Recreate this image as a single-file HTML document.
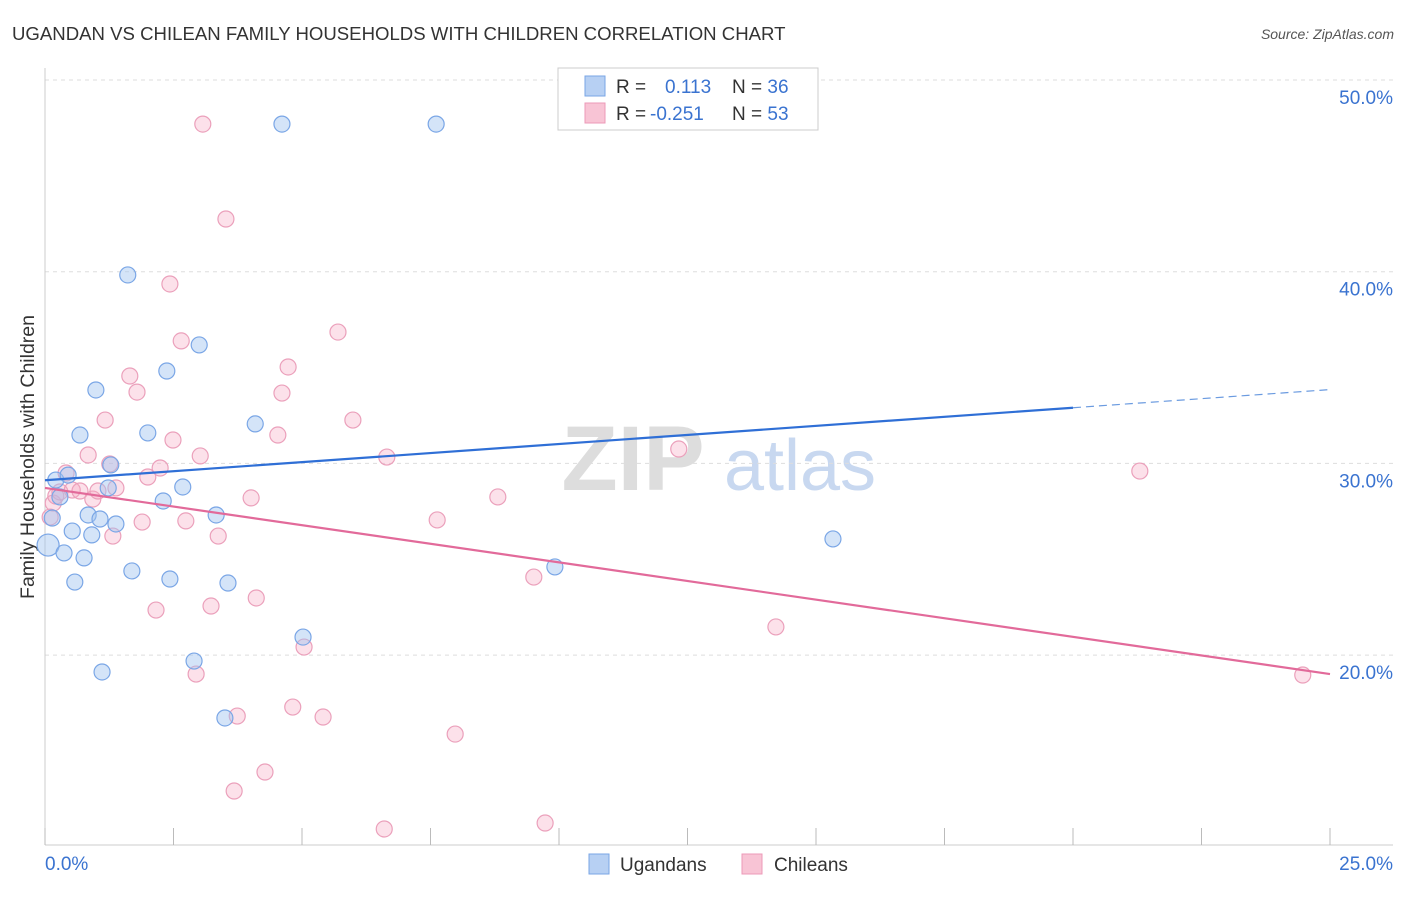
<!DOCTYPE html>
<html><head><meta charset="utf-8"><style>
body{margin:0;background:#fff;font-family:"Liberation Sans",sans-serif}
svg text{font-family:"Liberation Sans",sans-serif}
</style></head><body>
<svg id="c" width="1406" height="892">
<text x="12" y="40" font-size="18.6" fill="#333">UGANDAN VS CHILEAN FAMILY HOUSEHOLDS WITH CHILDREN CORRELATION CHART</text>
<text x="1394" y="39" font-size="14" fill="#555" font-style="italic" text-anchor="end">Source: ZipAtlas.com</text>
<text x="34" y="457" font-size="19.5" fill="#333" text-anchor="middle" transform="rotate(-90 34 457)">Family Households with Children</text>
<g><text x="633" y="490" font-size="92" fill="#ddd" text-anchor="middle" font-family="Liberation Serif" font-weight="bold">ZIP</text><text x="800" y="490" font-size="72" fill="#c8d8f0" text-anchor="middle">atlas</text></g>
<g id="grid"></g><g id="marks"></g>
<g>
<rect x="558" y="68" width="260" height="62" fill="#fff" stroke="#ccc"/>
<rect x="585" y="76" width="20" height="20" fill="#b7d0f3" stroke="#7aa6e6"/>
<rect x="585" y="103" width="20" height="20" fill="#f8c4d5" stroke="#ec9ab8"/>
<text x="616" y="93" font-size="19" fill="#333">R = <tspan fill="#3a73d0" x="665">0.113</tspan><tspan x="732" fill="#333">N = </tspan><tspan fill="#3a73d0">36</tspan></text>
<text x="616" y="120" font-size="19" fill="#333">R = <tspan fill="#3a73d0" x="650">-0.251</tspan><tspan x="732" fill="#333">N = </tspan><tspan fill="#3a73d0">53</tspan></text>
</g>
<g>
<rect x="589" y="854" width="20" height="20" fill="#b7d0f3" stroke="#7aa6e6"/><text x="620" y="871" font-size="19" fill="#333">Ugandans</text>
<rect x="742" y="854" width="20" height="20" fill="#f8c4d5" stroke="#ec9ab8"/><text x="774" y="871" font-size="19" fill="#333">Chileans</text>
</g>
</svg>
<script>
const xTicks=[0,2.5,5,7.5,10,12.5,15,17.5,20,22.5,25];
const yTicks=[20,30,40,50];
const yTickLabels=["20.0%","30.0%","40.0%","50.0%"];
const ugX=[0.06,0.14,0.21,0.29,0.37,0.45,0.53,0.58,0.68,0.76,0.84,0.91,0.99,1.07,1.11,1.23,1.28,1.38,1.61,1.69,2.00,2.30,2.37,2.43,2.68,2.90,3.00,3.33,3.50,3.56,4.09,4.61,5.02,7.61,9.92,15.33];
const ugY=[25.74,27.15,29.13,28.25,25.33,29.39,26.47,23.81,31.48,25.07,27.31,26.27,33.83,27.10,19.12,28.72,29.92,26.84,39.83,24.39,31.59,28.04,34.82,23.97,28.77,19.69,36.18,27.31,16.72,23.76,32.06,47.70,20.94,47.70,24.60,26.06];
const chX=[0.10,0.16,0.21,0.29,0.41,0.53,0.68,0.84,0.93,1.03,1.17,1.26,1.32,1.38,1.65,1.79,1.89,2.00,2.16,2.24,2.43,2.49,2.65,2.74,2.94,3.02,3.07,3.23,3.37,3.52,3.74,3.68,4.01,4.11,4.28,4.53,4.61,4.73,4.82,5.04,5.41,5.70,5.99,6.60,6.65,7.63,7.98,8.81,9.51,9.73,12.33,14.22,21.30,24.47];
const chY=[27.20,27.93,28.30,28.51,29.50,28.61,28.56,30.44,28.14,28.56,32.26,29.97,26.21,28.72,34.56,33.72,26.94,29.29,22.35,29.76,39.36,31.22,36.39,27.00,19.01,30.39,47.70,22.56,26.21,42.75,16.82,12.91,28.20,22.98,13.90,31.48,33.67,35.03,17.29,20.42,16.77,36.85,32.26,10.93,30.33,27.05,15.88,28.25,24.07,11.24,30.75,21.47,29.60,18.96];
const ugTrend=[29.12,33.85];
const chTrend=[28.72,19.01];
const X=v=>45+v*51.4, Y=v=>80+(50-v)*19.17;
const NS="http://www.w3.org/2000/svg";
function mk(p,t,a){const e=document.createElementNS(NS,t);for(const k in a)e.setAttribute(k,a[k]);p.appendChild(e);return e;}
const g=document.getElementById('grid'),m=document.getElementById('marks');
yTicks.forEach((t,i)=>{
 const l=mk(g,'line',{x1:45,x2:1393,y1:Y(t),y2:Y(t),stroke:'#ddd','stroke-dasharray':'4 4'});
 
 
 const tx=mk(g,'text',{x:1393,y:Y(t)+24,'font-size':19,fill:'#3a73d0','text-anchor':'end'});tx.textContent=yTickLabels[i];
 
 
});
mk(g,'line',{x1:45,x2:45,y1:68,y2:845,stroke:'#ccc'});
mk(g,'line',{x1:45,x2:1393,y1:845,y2:845,stroke:'#ccc'});
xTicks.forEach(t=>{const l=mk(g,'line',{x1:X(t),x2:X(t),y1:828,y2:845,stroke:'#bbb'});
 
 });
let t0=mk(g,'text',{x:45,y:870,'font-size':19,fill:'#3a73d0'});t0.textContent='0.0%';


let t1=mk(g,'text',{x:1393,y:870,'font-size':19,fill:'#3a73d0','text-anchor':'end'});t1.textContent='25.0%';


chX.forEach((x,i)=>{const c=mk(m,'circle',{cx:X(x),cy:Y(chY[i]),r:8,fill:'rgba(245,170,195,0.35)',stroke:'#eba0bb','stroke-width':1.2});
 
 });
ugX.forEach((x,i)=>{const c=mk(m,'circle',{cx:X(x),cy:Y(ugY[i]),r:i==0?11:8,fill:'rgba(160,195,240,0.45)',stroke:'#7aa6e6','stroke-width':1.2});
 
 });
const sl=(ugTrend[1]-ugTrend[0])/25;
let bl=mk(m,'line',{x1:X(0),y1:Y(ugTrend[0]),x2:X(20),y2:Y(ugTrend[0]+sl*20),stroke:'#2f6fd6','stroke-width':2.2});


let bd=mk(m,'line',{x1:X(20),y1:Y(ugTrend[0]+sl*20),x2:X(25),y2:Y(ugTrend[1]),stroke:'#6b9be0','stroke-width':1.2,'stroke-dasharray':'8 5'});


let pl=mk(m,'line',{x1:X(0),y1:Y(chTrend[0]),x2:X(25),y2:Y(chTrend[1]),stroke:'#e26a9a','stroke-width':2.2});


</script>
</body></html>
